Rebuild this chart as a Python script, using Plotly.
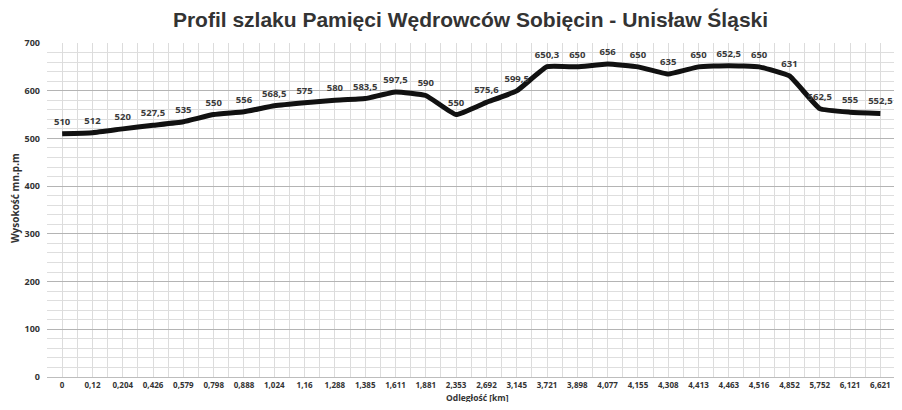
import plotly.graph_objects as go

distance_labels = ["0", "0,12", "0,204", "0,426", "0,579", "0,798", "0,888", "1,024", "1,16",
                   "1,288", "1,385", "1,611", "1,881", "2,353", "2,692", "3,145", "3,721",
                   "3,898", "4,077", "4,155", "4,308", "4,413", "4,463", "4,516", "4,852",
                   "5,752", "6,121", "6,621"]
elevation = [510, 512, 520, 527.5, 535, 550, 556, 568.5, 575, 580, 583.5, 597.5, 590, 550,
             575.6, 599.5, 650.3, 650, 656, 650, 635, 650, 652.5, 650, 631, 562.5, 555, 552.5]
y_ticks = [0, 100, 200, 300, 400, 500, 600, 700]

idx = list(range(len(distance_labels)))
point_labels = [("%g" % v).replace(".", ",") for v in elevation]

font_fam = "Open Sans, Liberation Sans, Arial, sans-serif"

fig = go.Figure()
fig.add_trace(go.Scatter(
    x=idx, y=elevation, mode="lines+markers+text",
    line=dict(color="#111111", width=5, shape="spline", smoothing=0.35),
    marker=dict(size=9, color="rgba(0,0,0,0)"),
    text=point_labels, textposition="top center",
    textfont=dict(family=font_fam, size=9.5, color="#3a3a3a", weight="bold"),
    cliponaxis=False, hoverinfo="skip", showlegend=False,
))

fig.update_layout(
    width=886, height=394,
    margin=dict(l=39, r=0, t=35, b=25),
    paper_bgcolor="white", plot_bgcolor="white",
    title=dict(text="<b>Profil szlaku Pamięci Wędrowców Sobięcin - Unisław Śląski</b>",
               x=0.522, xanchor="center", y=0.97, yanchor="middle",
               font=dict(family="Liberation Sans, Arial, sans-serif", size=21, color="#333333")),
    xaxis=dict(
        range=[-0.5, 27.45], tickmode="array", tickvals=idx, ticktext=distance_labels,
        showgrid=True, gridcolor="#dcdcdc", gridwidth=1,
        minor=dict(dtick=0.5, tick0=0.5, showgrid=True, gridcolor="#dcdcdc", gridwidth=1),
        tickfont=dict(family=font_fam, size=8, color="#333333", weight="bold"),
        ticks="", zeroline=False, showline=True, linecolor="#bdbdbd", linewidth=1,
        fixedrange=True,
    ),
    yaxis=dict(
        range=[0, 700], tickvals=y_ticks,
        showgrid=True, gridcolor="#b4b4b4", gridwidth=1,
        minor=dict(dtick=20, showgrid=True, gridcolor="#dedede", gridwidth=1),
        tickfont=dict(family=font_fam, size=9, color="#333333", weight="bold"),
        ticks="", zeroline=False, showline=False, ticklabelstandoff=6,
        fixedrange=True,
    ),
    annotations=[
        dict(text="<b>Wysokość mn.p.m</b>", textangle=-90, showarrow=False,
             xref="paper", yref="paper", x=-0.0377, y=0.536,
             xanchor="center", yanchor="middle",
             font=dict(family=font_fam, size=10, color="#333333")),
        dict(text="<b>Odległość [km]</b>", showarrow=False,
             xref="paper", yref="paper", x=0.508, y=-0.062,
             xanchor="center", yanchor="middle",
             font=dict(family=font_fam, size=8.5, color="#333333")),
    ],
)

fig.write_html("out.html")
